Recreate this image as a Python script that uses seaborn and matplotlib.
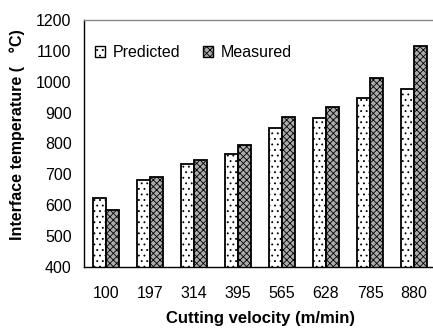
import matplotlib
matplotlib.use("Agg")
import matplotlib.pyplot as plt
import seaborn as sns
import pandas as pd

categories = ["100", "197", "314", "395", "565", "628", "785", "880"]
predicted = [625, 681, 735, 765, 849, 883, 948, 976]
measured = [586, 691, 745, 795, 887, 918, 1012, 1115]
series_names = ["Predicted", "Measured"]
y_ticks = [400, 500, 600, 700, 800, 900, 1000, 1100, 1200]

df = pd.DataFrame({
    "velocity": categories * 2,
    "value": predicted + measured,
    "series": [series_names[0]] * len(categories) + [series_names[1]] * len(categories),
})

sns.set_style("white")
plt.rcParams["font.family"] = ["Liberation Sans", "DejaVu Sans"]
plt.rcParams["hatch.linewidth"] = 0.6
for k in ["text.color", "axes.labelcolor", "xtick.color", "ytick.color"]:
    plt.rcParams[k] = "black"

FS = 11.5

fig = plt.figure(figsize=(4.33, 3.29), dpi=100)
ax = fig.add_axes([84 / 433, 1 - 267 / 329, 352 / 433, 247 / 329])

sns.barplot(data=df, x="velocity", y="value", hue="series", order=categories,
            hue_order=series_names, width=0.58, ax=ax, legend=True,
            palette=["white", "#ababab"], saturation=1)

styles = [("white", "...", "black"), ("#ababab", "xxxxx", "black")]
for cont, (fc, hatch, ec) in zip(ax.containers, styles):
    for bar in cont:
        bar.set_facecolor(fc)
        bar.set_hatch(hatch)
        bar.set_edgecolor(ec)
        bar.set_linewidth(1.3)

ax.set_ylim(400, 1200)
ax.set_yticks(y_ticks)
ax.set_xlim(-0.5, len(categories) - 0.5)
ax.set_xticks(range(len(categories)))
ax.set_xticklabels(categories)
ax.set_xticks([i - 0.5 for i in range(len(categories) + 1)], minor=True)
ax.tick_params(axis="x", which="major", length=0, pad=14, labelsize=FS)
ax.tick_params(axis="x", which="minor", length=5, width=1, direction="out", color="black")
ax.tick_params(axis="y", length=5, width=1, direction="out", color="black", labelsize=FS, pad=4)

for s in ["left", "bottom"]:
    ax.spines[s].set_color("black")
    ax.spines[s].set_linewidth(1)
ax.spines["top"].set_color("#888888")
ax.spines["top"].set_linewidth(1)
ax.spines["right"].set_visible(False)

ax.set_xlabel("Cutting velocity (m/min)", fontsize=12, fontweight="bold", labelpad=7)
ax.set_ylabel("Interface temperature (   \u00b0C)", fontsize=FS, fontweight="bold")
ax.yaxis.label.set_va("center")
ax.yaxis.set_label_coords(-0.19, 0.534)

handles, labels = ax.get_legend_handles_labels()
for h, (fc, hatch, ec) in zip(handles, styles):
    h.set_facecolor(fc)
    h.set_hatch(hatch)
    h.set_edgecolor(ec)
ax.legend(handles, labels, loc="center left", bbox_to_anchor=(-0.005, 0.868), frameon=False,
          ncol=2, handlelength=0.6, handleheight=0.6, handletextpad=0.5,
          columnspacing=1.45, fontsize=FS, borderaxespad=0.4)

fig.savefig("out.png", dpi=100)
